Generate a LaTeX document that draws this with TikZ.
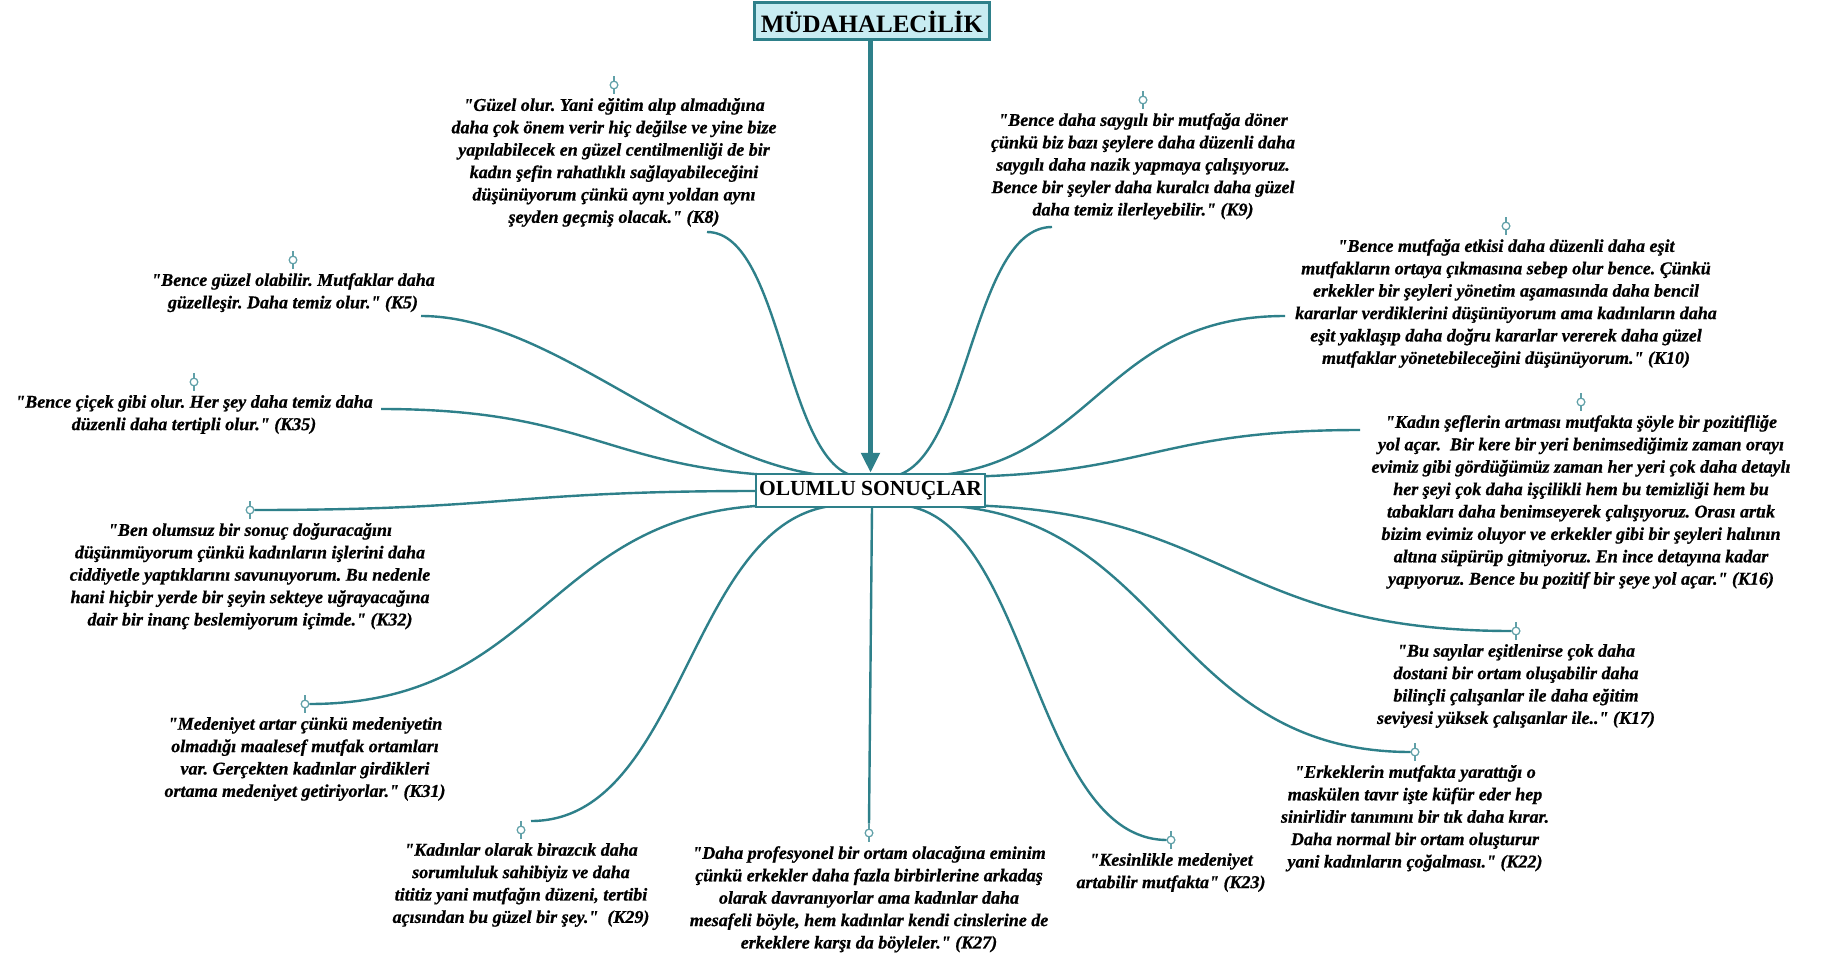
\documentclass[tikz,border=0pt]{standalone}
\usepackage{fontspec}
\setmainfont{Liberation Serif}[Ligatures=TeXOff]
\newfontfamily\qfont{Liberation Serif Bold Italic}[Ligatures=TeXOff, FakeBold=0.8]
\usetikzlibrary{arrows.meta}
\definecolor{tealc}{RGB}{46,128,138}
\definecolor{pinc}{RGB}{96,160,168}
\definecolor{titlefill}{RGB}{200,236,242}
\frenchspacing
\tikzset{
  conn/.style={draw=tealc, line width=2.4pt},
  quote/.style={align=center, inner sep=0pt, anchor=north, text=black,
    font=\qfont\fontsize{18}{22.4}\selectfont\frenchspacing},
  pinmark/.style={circle, draw=pinc, line width=1.1pt, minimum size=7.5pt, inner sep=0pt, fill=white},
  pinline/.style={draw=pinc, line width=1.1pt},
  titlebox/.style={draw=tealc, line width=3pt, fill=titlefill, minimum width=235pt,
    minimum height=37pt, inner sep=0pt, font=\bfseries\fontsize{25}{30}\selectfont},
  mainbox/.style={draw=tealc, line width=2.5pt, fill=white, minimum width=229pt,
    minimum height=33pt, inner sep=0pt, font=\bfseries\fontsize{21.5}{26}\selectfont},
  mainarrow/.style={draw=tealc, line width=5pt, -{Triangle[width=18pt,length=20pt]}}
}
\begin{document}
\begin{tikzpicture}[x=1pt,y=-1pt]
\fill[white] (0,0) rectangle (1822,960);
\useasboundingbox (0,0) rectangle (1822,960);

% central nodes
\node[titlebox] (title) at (872,21.5) {MÜDAHALECİLİK};
\node[mainbox] (ol) at (870.5,490.5) {\phantom{OLUMLU SONUÇLAR}};

% text nodes
\node[quote] (k8) at (614,98) {"Güzel olur. Yani eğitim alıp almadığına\\daha çok önem verir hiç değilse ve yine bize\\yapılabilecek en güzel centilmenliği de bir\\kadın şefin rahatlıklı sağlayabileceğini\\düşünüyorum çünkü aynı yoldan aynı\\şeyden geçmiş olacak." (K8)};
\node[quote] (k9) at (1143,113) {"Bence daha saygılı bir mutfağa döner\\çünkü biz bazı şeylere daha düzenli daha\\saygılı daha nazik yapmaya çalışıyoruz.\\Bence bir şeyler daha kuralcı daha güzel\\daha temiz ilerleyebilir." (K9)};
\node[quote] (k10) at (1506,239) {"Bence mutfağa etkisi daha düzenli daha eşit\\mutfakların ortaya çıkmasına sebep olur bence. Çünkü\\erkekler bir şeyleri yönetim aşamasında daha bencil\\kararlar verdiklerini düşünüyorum ama kadınların daha\\eşit yaklaşıp daha doğru kararlar vererek daha güzel\\mutfaklar yönetebileceğini düşünüyorum." (K10)};
\node[quote] (k16) at (1581,415) {"Kadın şeflerin artması mutfakta şöyle bir pozitifliğe\\yol açar.\ \ Bir kere bir yeri benimsediğimiz zaman orayı\\evimiz gibi gördüğümüz zaman her yeri çok daha detaylı\\her şeyi çok daha işçilikli hem bu temizliği hem bu\\tabakları daha benimseyerek çalışıyoruz. Orası artık\\bizim evimiz oluyor ve erkekler gibi bir şeyleri halının\\altına süpürüp gitmiyoruz. En ince detayına kadar\\yapıyoruz. Bence bu pozitif bir şeye yol açar." (K16)};
\node[quote] (k5) at (293,273) {"Bence güzel olabilir. Mutfaklar daha\\güzelleşir. Daha temiz olur." (K5)};
\node[quote] (k35) at (194,395) {"Bence çiçek gibi olur. Her şey daha temiz daha\\düzenli daha tertipli olur." (K35)};
\node[quote] (k32) at (250,523) {"Ben olumsuz bir sonuç doğuracağını\\düşünmüyorum çünkü kadınların işlerini daha\\ciddiyetle yaptıklarını savunuyorum. Bu nedenle\\hani hiçbir yerde bir şeyin sekteye uğrayacağına\\dair bir inanç beslemiyorum içimde." (K32)};
\node[quote] (k31) at (305,717) {"Medeniyet artar çünkü medeniyetin\\olmadığı maalesef mutfak ortamları\\var. Gerçekten kadınlar girdikleri\\ortama medeniyet getiriyorlar." (K31)};
\node[quote] (k29) at (521,843) {"Kadınlar olarak birazcık daha\\sorumluluk sahibiyiz ve daha\\tititiz yani mutfağın düzeni, tertibi\\açısından bu güzel bir şey."\ \ (K29)};
\node[quote] (k27) at (869,846) {"Daha profesyonel bir ortam olacağına eminim\\çünkü erkekler daha fazla birbirlerine arkadaş\\olarak davranıyorlar ama kadınlar daha\\mesafeli böyle, hem kadınlar kendi cinslerine de\\erkeklere karşı da böyleler." (K27)};
\node[quote] (k23) at (1171,853) {"Kesinlikle medeniyet\\artabilir mutfakta" (K23)};
\node[quote] (k22) at (1415,765) {"Erkeklerin mutfakta yarattığı o\\maskülen tavır işte küfür eder hep\\sinirlidir tanımını bir tık daha kırar.\\Daha normal bir ortam oluşturur\\yani kadınların çoğalması." (K22)};
\node[quote] (k17) at (1516,644) {"Bu sayılar eşitlenirse çok daha\\dostani bir ortam oluşabilir daha\\bilinçli çalışanlar ile daha eğitim\\seviyesi yüksek çalışanlar ile.." (K17)};

% pins
\foreach \k in {8,9,10,16,5,35,32,31,29,27,23,22,17} {
  \node[pinmark] (p\k) at ([yshift=13pt]k\k.north) {};
}

% connector end points
\coordinate (e35) at (830,477);  \coordinate (s35) at (381,409);
\coordinate (e5)  at (850,477);  \coordinate (s5)  at (421,316);
\coordinate (e8)  at (862,477);  \coordinate (s8)  at (707,232);
\coordinate (e9)  at (886,477);  \coordinate (s9)  at (1052,227);
\coordinate (e10) at (907,477);  \coordinate (s10) at (1285,316);
\coordinate (e16) at (940,477);  \coordinate (s16) at (1360,430);
\coordinate (e32) at (758,491);
\coordinate (e31) at (784,505);
\coordinate (e29) at (846,505);  \coordinate (s29) at (531,821);
\coordinate (e27) at (872,507);
\coordinate (e23) at (895,505);
\coordinate (e22) at (927,505);
\coordinate (e17) at (948,505);

\draw[conn] (e35) .. controls (605,477) and (605,409) .. (s35);
\draw[conn] (e5) .. controls (700,477) and (560,316) .. (s5);
\draw[conn] (e8) .. controls (784.5,477) and (784.5,232) .. (s8);
\draw[conn] (e9) .. controls (969,477) and (969,227) .. (s9);
\draw[conn] (e10) .. controls (1096,477) and (1096,316) .. (s10);
\draw[conn] (e16) .. controls (1150,477) and (1150,430) .. (s16);
\draw[conn] (e32) .. controls (508,491) and (508,510) .. (p32.east);
\draw[conn] (e31) .. controls (546,505) and (546,704) .. (p31.east);
\draw[conn] (e29) .. controls (688,505) and (688,821) .. (s29);
\draw[conn] (e27) -- ([yshift=5pt]p27.north);
\draw[conn] (e23) .. controls (1030,505) and (1030,839) .. (p23.west);
\draw[conn] (e22) .. controls (1166,505) and (1166,752) .. (p22.west);
\draw[conn] (e17) .. controls (1226,505) and (1226,631) .. (p17.west);

% redraw box on top of connectors
\node[mainbox] at (ol.center) {OLUMLU SONUÇLAR};
\draw[mainarrow] (title.south -| ol.north) -- (ol.north);

% pin stubs and pins on top
\foreach \k in {8,9,10,16,5,35,32,31,29,27,23,22,17} {
  \draw[pinline] (p\k.north) -- ++(0,5pt) (p\k.south) -- ++(0,-5pt);
  \node[pinmark] at (p\k.center) {};
}
\end{tikzpicture}
\end{document}
